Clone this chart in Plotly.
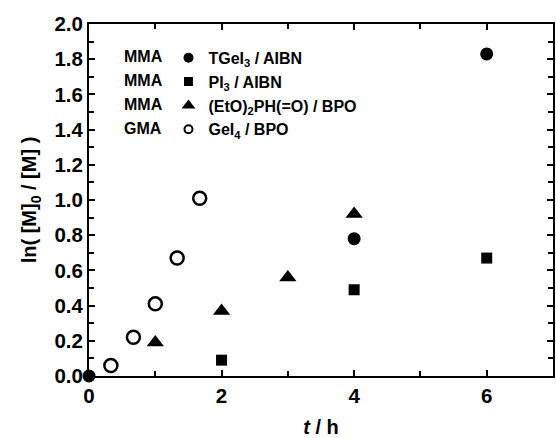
import plotly.graph_objects as go

# data
t_tgei3 = [0, 4, 6]
y_tgei3 = [0.0, 0.78, 1.83]
t_pi3 = [2, 4, 6]
y_pi3 = [0.09, 0.49, 0.67]
t_eto = [1, 2, 3, 4]
y_eto = [0.19, 0.37, 0.56, 0.92]
t_gei4 = [0.33, 0.67, 1.0, 1.33, 1.67]
y_gei4 = [0.06, 0.22, 0.41, 0.67, 1.01]

monomers = ["MMA", "MMA", "MMA", "GMA"]
labels = ["TGeI<sub>3</sub> / AIBN", "PI<sub>3</sub> / AIBN",
          "(EtO)<sub>2</sub>PH(=O) / BPO", "GeI<sub>4</sub> / BPO"]

FONT = "Liberation Sans, Arial, sans-serif"

series = [
    (t_tgei3, y_tgei3, dict(symbol="circle", size=13, color="black"),
     dict(symbol="circle", size=10, color="black")),
    (t_pi3, y_pi3, dict(symbol="square", size=11, color="black"),
     dict(symbol="square", size=9, color="black")),
    (t_eto, y_eto, dict(symbol="triangle-up", size=15, color="black"),
     dict(symbol="triangle-up", size=12, color="black")),
    (t_gei4, y_gei4, dict(symbol="circle-open", size=13, color="black",
                          line=dict(width=2.5, color="black")),
     dict(symbol="circle-open", size=8, color="black", line=dict(width=2, color="black"))),
]

fig = go.Figure()
for i, (xs, ys, mk, lmk) in enumerate(series):
    fig.add_trace(go.Scatter(x=xs, y=ys, mode="markers", name=labels[i], showlegend=False,
                             cliponaxis=False, marker=mk))
    # legend entry with smaller symbol
    fig.add_trace(go.Scatter(x=[None], y=[None], mode="markers", name=labels[i],
                             legendgroup=str(i), marker=lmk))

axis_common = dict(
    showline=True, linewidth=2, linecolor="black", mirror="allticks",
    ticks="inside", ticklen=6, tickwidth=2, tickcolor="black",
    showgrid=False, zeroline=False,
    tickfont=dict(family=FONT, size=20.5, color="black", weight="bold"),
)

fig.update_xaxes(range=[0, 7], tickvals=[0, 2, 4, 6], ticktext=["0", "2", "4", "6"],
                 minor=dict(dtick=1, ticks="inside", ticklen=5, tickwidth=2, tickcolor="black"),
                 title=dict(text="<i>t</i> / h", standoff=16,
                            font=dict(family=FONT, size=20, color="black", weight="bold")),
                 **axis_common)
fig.update_yaxes(range=[0, 2], dtick=0.2, tickformat=".1f",
                 minor=dict(dtick=0.1, ticks="inside", ticklen=5, tickwidth=2, tickcolor="black"),
                 title=dict(text="ln( [M]<sub>0</sub> / [M] )", standoff=12,
                            font=dict(family=FONT, size=20, color="black", weight="bold")),
                 **axis_common)

for i, m in enumerate(monomers):
    fig.add_annotation(text=m, xref="paper", yref="paper", x=(122 - 89) / 467,
                       y=(378 - (57 + 24 * i)) / 354, xanchor="left", yanchor="middle",
                       showarrow=False,
                       font=dict(family=FONT, size=16, color="black", weight="bold"))

fig.update_layout(
    width=556, height=438,
    margin=dict(l=89, r=1, t=24, b=60),
    paper_bgcolor="white", plot_bgcolor="white",
    showlegend=True,
    legend=dict(x=(169 - 89) / 467, y=(378 - 41) / 354, xanchor="left", yanchor="top",
                bgcolor="rgba(0,0,0,0)", tracegroupgap=0, itemsizing="trace",
                font=dict(family=FONT, size=16, color="black", weight="bold")),
)

fig.write_html("out.html")
